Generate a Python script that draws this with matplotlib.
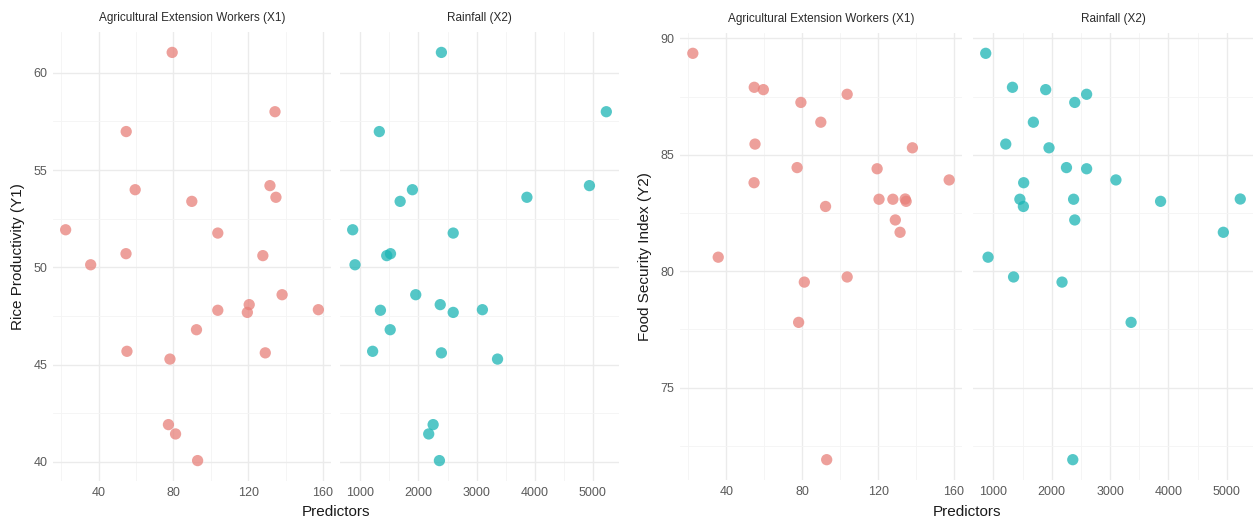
import numpy as np
import matplotlib
matplotlib.use("Agg")
import matplotlib.pyplot as plt
from matplotlib.ticker import MultipleLocator

plt.rcParams['font.family'] = ['Liberation Sans', 'DejaVu Sans']

x1_workers = [79.3, 134.3, 54.7, 59.5, 131.6, 134.8, 89.8, 22.3, 103.7, 54.6, 127.8, 35.7,
              138.1, 120.5, 119.5, 103.7, 157.5, 92.3, 55.1, 129.1, 78.1, 77.3, 81.1, 92.9]
x2_rainfall = [2395, 5230, 1328, 1897, 4940, 3865, 1686, 870, 2598, 1520, 1455, 910,
               1954, 2375, 2598, 1347, 3100, 1515, 1213, 2395, 3360, 2253, 2177, 2361]
y1_rice = [61.05, 58.0, 56.98, 53.99, 54.2, 53.6, 53.39, 51.93, 51.76, 50.7, 50.6, 50.13,
           48.59, 48.08, 47.68, 47.79, 47.82, 46.79, 45.68, 45.6, 45.28, 41.91, 41.43, 40.06]
y2_food = [87.25, 83.1, 87.9, 87.8, 81.67, 83.0, 86.4, 89.36, 87.6, 83.8, 83.09, 80.6,
           85.3, 83.09, 84.4, 79.75, 83.92, 82.78, 85.46, 82.2, 77.8, 84.45, 79.53, 71.9]

facet_names = ['Agricultural Extension Workers (X1)', 'Rainfall (X2)']
facet_colors = ['#E8807A', '#1CB5B5']

W, H = 1253, 521
fig = plt.figure(figsize=(W / 100, H / 100), dpi=100)


def px_axes(x0, x1, y0, y1):
    return fig.add_axes([x0 / W, 1 - y1 / H, (x1 - x0) / W, (y1 - y0) / H])


def style(ax, xmaj, xmin, ymaj, ymin, show_y):
    ax.xaxis.set_major_locator(MultipleLocator(xmaj))
    ax.xaxis.set_minor_locator(MultipleLocator(xmin))
    ax.yaxis.set_major_locator(MultipleLocator(ymaj))
    ax.yaxis.set_minor_locator(MultipleLocator(ymin))
    ax.grid(which='major', color='#EBEBEB', linewidth=1.0)
    ax.grid(which='minor', color='#F4F4F4', linewidth=0.6)
    ax.set_axisbelow(True)
    for s in ax.spines.values():
        s.set_visible(False)
    ax.tick_params(which='both', length=0, labelsize=9, labelcolor='#5A5A5A', pad=4)
    if not show_y:
        ax.tick_params(axis='y', labelleft=False)


def panel(xl, xr, top, bottom, y, ylabel, ymaj, ymin):
    # two facets sharing y, free x
    (a0, a1), (b0, b1) = xl, xr
    ax1 = px_axes(a0, a1, top, bottom)
    ax2 = px_axes(b0, b1, top, bottom)
    ax1.scatter(x1_workers, y, s=66, color=facet_colors[0], alpha=0.75, edgecolors='none')
    ax2.scatter(x2_rainfall, y, s=66, color=facet_colors[1], alpha=0.75, edgecolors='none')
    ax2.set_ylim(ax1.get_ylim())
    style(ax1, 40, 20, ymaj, ymin, True)
    style(ax2, 1000, 500, ymaj, ymin, False)
    for ax, name in zip((ax1, ax2), facet_names):
        ax.text(0.5, 1.0 + 14 / (bottom - top), name, transform=ax.transAxes,
                ha='center', va='center', fontsize=8.5, color='#2A2A2A')
    ax1.set_ylabel(ylabel, fontsize=11, color='#1A1A1A', labelpad=6)
    fig.text(((a0 + b1) / 2) / W, 1 - 512 / H, 'Predictors', ha='center', va='center',
             fontsize=11, color='#1A1A1A')
    return ax1, ax2


panel((53, 331), (340, 619), 32, 481, y1_rice, 'Rice Productivity (Y1)', 5, 2.5)
panel((680, 962), (973, 1253), 33, 480, y2_food, 'Food Security Index (Y2)', 5, 2.5)

fig.savefig('out.png', dpi=100, facecolor='white')
